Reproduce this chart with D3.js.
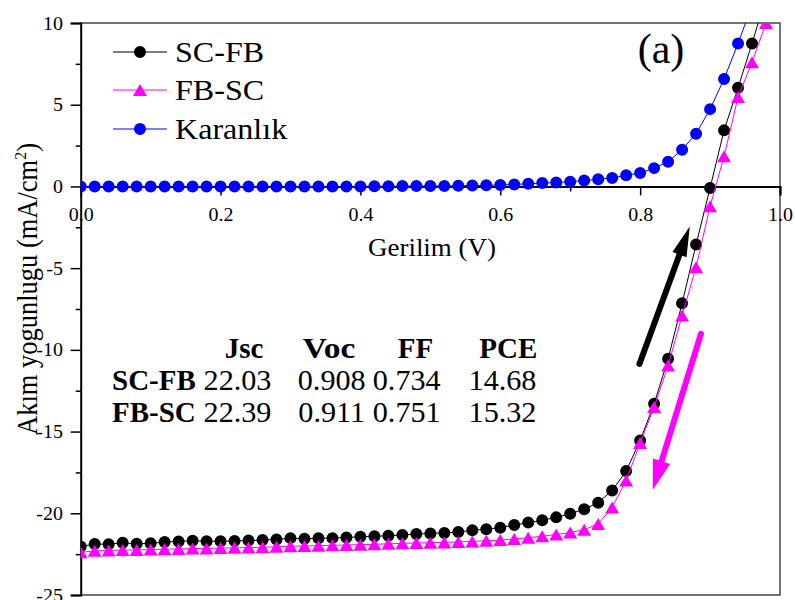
<!DOCTYPE html>
<html>
<head>
<meta charset="utf-8">
<script src="https://cdn.jsdelivr.net/npm/d3@7"></script>
<style>
  body { margin: 0; background: #fff; }
  svg { display: block; font-family: "Liberation Serif", "Times New Roman", serif; }
</style>
</head>
<body>
<svg id="chart" width="795" height="600"></svg>
<script>
// voltage points (V)
const voltage = [0.00, 0.02, 0.04, 0.06, 0.08, 0.10, 0.12, 0.14, 0.16, 0.18,
  0.20, 0.22, 0.24, 0.26, 0.28, 0.30, 0.32, 0.34, 0.36, 0.38,
  0.40, 0.42, 0.44, 0.46, 0.48, 0.50, 0.52, 0.54, 0.56, 0.58,
  0.60, 0.62, 0.64, 0.66, 0.68, 0.70, 0.72, 0.74, 0.76, 0.78,
  0.80, 0.82, 0.84, 0.86, 0.88, 0.90, 0.92, 0.94, 0.96, 0.98];

// current density (mA/cm2)
const scfb = [-22.03, -21.88, -21.90, -21.80, -21.87, -21.84, -21.76, -21.72, -21.68, -21.71,
  -21.71, -21.69, -21.67, -21.64, -21.60, -21.52, -21.56, -21.53, -21.52, -21.48,
  -21.43, -21.41, -21.37, -21.33, -21.27, -21.23, -21.20, -21.15, -21.04, -20.97,
  -20.88, -20.72, -20.57, -20.43, -20.25, -20.03, -19.75, -19.35, -18.60, -17.42,
  -15.55, -13.30, -10.55, -7.15, -3.55, -0.10, 3.43, 6.04, 8.74, 11.60];

const fbsc = [-22.39, -22.30, -22.28, -22.25, -22.24, -22.22, -22.20, -22.18, -22.16, -22.15,
  -22.13, -22.11, -22.10, -22.08, -22.05, -22.02, -22.00, -21.98, -21.96, -21.94,
  -21.92, -21.90, -21.87, -21.84, -21.82, -21.80, -21.78, -21.75, -21.72, -21.68,
  -21.64, -21.57, -21.50, -21.40, -21.30, -21.18, -21.00, -20.66, -19.64, -18.00,
  -15.70, -13.50, -10.96, -7.90, -4.94, -1.22, 1.84, 5.47, 7.60, 10.00];

const dark = [0.00, 0.00, 0.00, 0.00, 0.00, 0.00, 0.00, 0.00, 0.00, 0.00,
  0.00, 0.00, 0.00, 0.00, 0.00, 0.00, 0.00, 0.00, 0.00, 0.00,
  0.00, 0.01, 0.01, 0.02, 0.02, 0.03, 0.03, 0.04, 0.05, 0.07,
  0.09, 0.12, 0.16, 0.21, 0.24, 0.29, 0.36, 0.44, 0.52, 0.68,
  0.82, 1.12, 1.51, 2.25, 3.23, 4.73, 6.57, 8.74, 11.10, 13.50];

const seriesNames = ["SC-FB", "FB-SC", "Karanlık"];
const seriesColors = ["#000000", "#ff00ff", "#0000ff"];

const xTicks = [0, 0.2, 0.4, 0.6, 0.8, 1.0];
const xMinorTicks = [0.1, 0.3, 0.5, 0.7, 0.9];
const yTicks = [-25, -20, -15, -10, -5, 0, 5, 10];
const yMinorTicks = [-22.5, -17.5, -12.5, -7.5, -2.5, 2.5, 7.5];

// table of cell parameters
const tableHeaders = ["Jsc", "Voc", "FF", "PCE"];
const tableRows = ["SC-FB", "FB-SC"];
const tableValues = [["22.03", "0.908", "0.734", "14.68"],
                     ["22.39", "0.911", "0.751", "15.32"]];

// arrow annotations in data units [V, J]
const upArrow = [[0.799, -10.86], [0.871, -2.45]];
const downArrow = [[0.887, -9.02], [0.818, -18.57]];

const svg = d3.select("#chart");
const pLeft = 80.7, pRight = 780, pTop = 23, pBottom = 595;

const x = d3.scaleLinear().domain([0, 1]).range([pLeft, pRight]);
const y = d3.scaleLinear().domain([-25, 10]).range([pBottom, pTop]);

// place text with slight horizontal stretch like the original
function putText(g, str, px, py, size, opts = {}) {
  const t = g.append("text")
    .attr("transform", `translate(${px},${py}) scale(${opts.sx || 1},1)`)
    .attr("text-anchor", opts.anchor || "start")
    .style("font-family", "'Liberation Serif', serif")
    .style("font-size", size + "px")
    .style("font-weight", opts.bold ? "bold" : "normal")
    .attr("fill", "#000")
    .text(str);
  return t;
}

// frame
svg.append("path")
  .attr("d", `M${pLeft},${pTop}H${pRight}V${pBottom}H${pLeft}`)
  .attr("fill", "none")
  .attr("stroke", "#444")
  .attr("stroke-width", 1.5);

// y axis
const yAxis = d3.axisLeft(y).tickValues(yTicks).tickSize(10).tickPadding(7).tickFormat(d => String(d));
const gy = svg.append("g").attr("transform", `translate(${pLeft},0)`).call(yAxis);
svg.append("g").attr("transform", `translate(${pLeft},0)`)
  .call(d3.axisLeft(y).tickValues(yMinorTicks).tickSize(5).tickFormat(""))
  .select(".domain").remove();

// x axis drawn at y = 0
const xAxis = d3.axisBottom(x).tickValues(xTicks).tickSize(9).tickPadding(12).tickFormat(d3.format(".1f"));
const gx = svg.append("g").attr("transform", `translate(0,${y(0)})`).call(xAxis);
svg.append("g").attr("transform", `translate(0,${y(0)})`)
  .call(d3.axisBottom(x).tickValues(xMinorTicks).tickSize(5).tickFormat(""))
  .select(".domain").remove();

svg.selectAll(".domain").attr("stroke", "#000").attr("stroke-width", 2);
svg.selectAll(".tick line").attr("stroke", "#000").attr("stroke-width", 1.5);
svg.selectAll(".tick text")
  .style("font-size", "19px")
  .style("font-family", "'Liberation Serif', serif")
  .attr("fill", "#000");
gy.selectAll(".tick text").attr("transform", "scale(1.05,1)");
gx.selectAll(".tick text").attr("transform", "scale(1.05,1)");

// axis titles
putText(svg, "Gerilim (V)", 432, 256, 25, { anchor: "middle", sx: 1.08 });

const yt = svg.append("text")
  .attr("transform", "translate(37,289) scale(1.1,1) rotate(-90)")
  .attr("text-anchor", "middle")
  .style("font-family", "'Liberation Serif', serif")
  .style("font-size", "26.5px")
  .attr("fill", "#000");
yt.append("tspan").text("Akım yogunlugu (mA/cm");
yt.append("tspan").attr("dy", -10).style("font-size", "16px").text("2");
yt.append("tspan").attr("dy", 10).text(")");

// clipped plot area
svg.append("clipPath").attr("id", "clip")
  .append("rect").attr("x", pLeft).attr("y", pTop)
  .attr("width", pRight - pLeft).attr("height", pBottom - pTop);
const plot = svg.append("g").attr("clip-path", "url(#clip)");

const line = d3.line().x(d => x(d[0])).y(d => y(d[1]));

const circle = d3.symbol().type(d3.symbolCircle).size(113)();
// triangle centred on its box
function triPath(w, h) {
  return `M0,${-h / 2}L${w / 2},${h / 2}L${-w / 2},${h / 2}Z`;
}

const seriesData = [scfb, fbsc, dark].map(arr => voltage.map((v, i) => [v, arr[i]]));
const markers = [circle, triPath(14, 12), circle];

seriesData.forEach((pts, k) => {
  plot.append("path")
    .datum(pts)
    .attr("fill", "none")
    .attr("stroke", seriesColors[k])
    .attr("stroke-width", 1)
    .attr("d", line);
  plot.selectAll(".m" + k)
    .data(pts)
    .join("path")
    .attr("class", "m" + k)
    .attr("d", markers[k])
    .attr("transform", d => `translate(${x(d[0])},${y(d[1])})`)
    .attr("fill", seriesColors[k]);
});

// arrows
function drawArrow(pts, color, headLen, headW) {
  const x0 = x(pts[0][0]), y0 = y(pts[0][1]);
  const x1 = x(pts[1][0]), y1 = y(pts[1][1]);
  const len = Math.hypot(x1 - x0, y1 - y0);
  const ux = (x1 - x0) / len, uy = (y1 - y0) / len;
  const bx = x1 - ux * headLen, by = y1 - uy * headLen;
  svg.append("line")
    .attr("x1", x0).attr("y1", y0).attr("x2", bx + ux * 2).attr("y2", by + uy * 2)
    .attr("stroke", color).attr("stroke-width", 6).attr("stroke-linecap", "round");
  svg.append("path")
    .attr("d", `M${x1},${y1}L${bx - uy * headW / 2},${by + ux * headW / 2}L${bx + uy * headW / 2},${by - ux * headW / 2}Z`)
    .attr("fill", color);
}
drawArrow(upArrow, "#000", 30, 15);
drawArrow(downArrow, "#ff00ff", 30, 18);

// legend
const legendY = [52, 90, 129];
seriesNames.forEach((name, k) => {
  const g = svg.append("g").attr("transform", `translate(0,${legendY[k]})`);
  g.append("line").attr("x1", 113).attr("x2", 167)
    .attr("stroke", seriesColors[k]).attr("stroke-width", 1);
  g.append("path").attr("d", markers[k]).attr("transform", "translate(140,0)")
    .attr("fill", seriesColors[k]);
  putText(g, name, 175, 9.5, 30, { sx: 1.07 });
});

// panel label
putText(svg, "(a)", 661, 63, 42, { anchor: "middle" });

// parameter table (columns centred)
const headX = [244, 329, 415.5, 508.3];
const valX = [237.5, 331.7, 406.7, 502.5];
tableHeaders.forEach((h, i) => putText(svg, h, headX[i], 358, 29,
  { bold: true, anchor: "middle", sx: i === 1 ? 1.15 : 1 }));
tableRows.forEach((r, j) => {
  const by = 390 + j * 31.7;
  putText(svg, r, 112, by, 29, { bold: true });
  tableValues[j].forEach((v, i) => putText(svg, v, valX[i], by, 29, { anchor: "middle", sx: 1.04 }));
});
</script>
</body>
</html>
